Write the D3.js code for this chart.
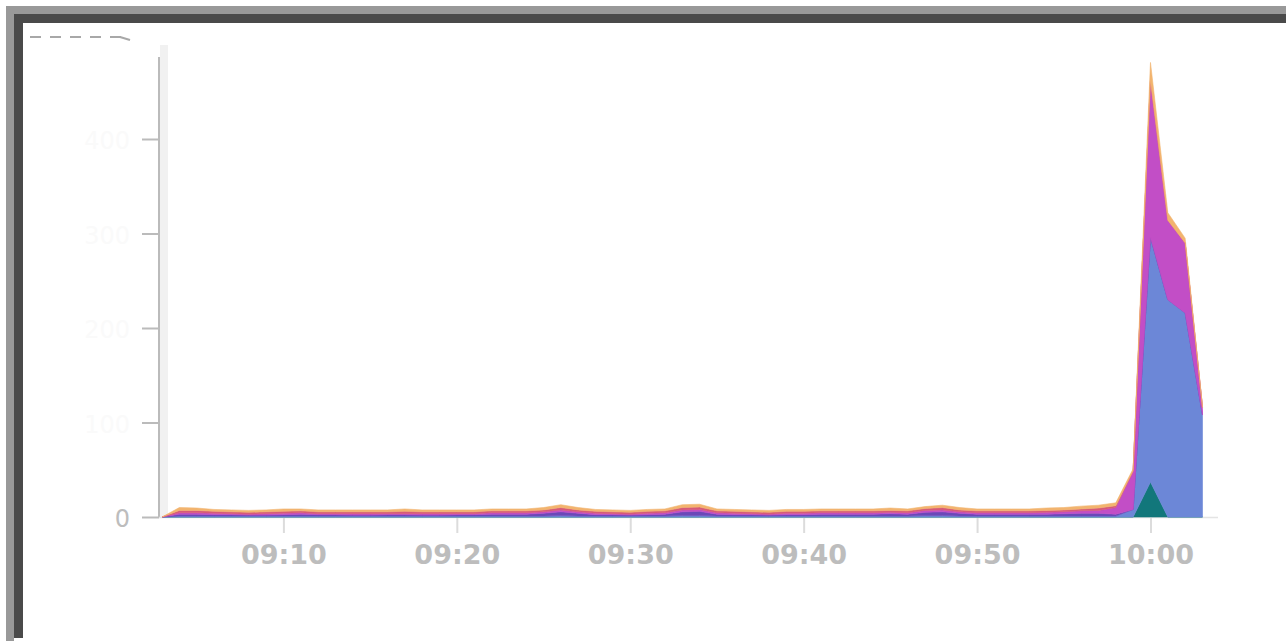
<!DOCTYPE html>
<html>
<head>
<meta charset="utf-8">
<script src="https://cdn.jsdelivr.net/npm/d3@7"></script>
<style>
  html, body { margin: 0; padding: 0; background: #fff; }
  svg { display: block; }
</style>
</head>
<body>
<svg id="chart" width="1286" height="641"></svg>
<script>
// one sample per minute, 09:03 .. 10:03
const startMinute = new Date(2020, 0, 1, 9, 3)
const minutes = d3.range(61).map(i => new Date(startMinute.getTime() + i * 60000))

const layerKeys = ['teal', 'blue', 'violet', 'magenta', 'red', 'orange']

const teal = [
  0, 0, 0, 0, 0, 0, 0, 0, 0, 0,
  0, 0, 0, 0, 0, 0, 0, 0, 0, 0,
  0, 0, 0, 0, 0, 0, 0, 0, 0, 0,
  0, 0, 0, 0, 0, 0, 0, 0, 0, 0,
  0, 0, 0, 0, 0, 0, 0, 0, 0, 0,
  0, 0, 0, 0, 0, 0, 0, 37, 0, 0,
  0
]
const blue = [
  0, 1, 1, 1, 1, 1, 1, 1, 1, 1,
  1, 1, 1, 1, 1, 1, 1, 1, 1, 1,
  1, 1, 1, 1.5, 1, 1, 1, 1, 1, 1,
  1.5, 1.5, 1, 1, 1, 1, 1, 1, 1, 1,
  1, 1, 1, 1, 1.5, 1.5, 1, 1, 1, 1,
  1, 1, 1, 1, 1, 1, 8, 259, 230, 216,
  108
]
const violet = [
  0, 2, 2, 1.5, 1.5, 1, 1, 1.5, 2, 1.5,
  1.5, 1, 1, 1.5, 1.5, 1, 1, 1.5, 1.5, 2,
  2, 2, 3, 4, 3, 1.5, 1.5, 1, 1.5, 2,
  4, 4.5, 2, 1.5, 1.5, 1, 1.5, 1.5, 2, 2,
  2, 2, 2.5, 2, 3.5, 4, 3, 2, 2, 2,
  2, 2, 2.5, 3, 3, 2, 0, 0, 0, 0,
  0
]
const magenta = [
  0, 1.5, 1.5, 1.5, 1, 1, 1.5, 1.5, 1.5, 1,
  1, 1.5, 1.5, 1, 1, 1.5, 1.5, 1, 1, 1.5,
  1.5, 1.5, 1.5, 2, 1.5, 1.5, 1, 1, 1.5, 1.5,
  2, 2, 1.5, 1.5, 1, 1, 1.5, 1.5, 1.5, 1.5,
  1.5, 1.5, 1.5, 1.5, 2, 2, 1.5, 1.5, 1.5, 1.5,
  1.5, 2, 2, 2.5, 3, 7, 40, 166, 84, 74,
  8
]
const red = [
  0, 2.5, 2.5, 2, 2, 2, 2, 2, 2, 2,
  2, 2, 2, 2, 2.5, 2, 2, 2, 2, 2,
  2, 2, 2, 2.5, 2, 2, 2, 2, 2, 2,
  2.5, 2.5, 2, 2, 2, 2, 2, 2, 2, 2,
  2, 2, 2, 2, 2, 2.5, 2, 2, 2, 2,
  2, 2, 2, 2, 2.5, 2, 1, 0, 0, 0,
  0
]
const orange = [
  0, 3, 2.5, 2, 2, 2, 2, 2.5, 2, 2,
  2, 2, 2, 2, 2.5, 2, 2, 2, 2, 2,
  2, 2, 2.5, 3, 2.5, 2, 2, 2, 2, 2,
  3, 3, 2, 2, 2, 2, 2, 2, 2, 2,
  2, 2, 2.5, 2, 2, 2.5, 2.5, 2, 2, 2,
  2, 2.5, 2.5, 3, 3, 3, 2, 19, 8, 5,
  1
]

const yTicks = [0, 100, 200, 300, 400]
const xTicks = [
  new Date(2020, 0, 1, 9, 10), new Date(2020, 0, 1, 9, 20), new Date(2020, 0, 1, 9, 30),
  new Date(2020, 0, 1, 9, 40), new Date(2020, 0, 1, 9, 50), new Date(2020, 0, 1, 10, 0)
]

const colors = {
  teal: '#12777b',
  blue: '#6c87d7',
  violet: '#6b48b8',
  magenta: '#c24ec6',
  red: '#d65a78',
  orange: '#f2b46e'
}

class StackedTraffic {
  constructor (element) {
    this.svg = d3.select(element)
    this.x = d3.scaleTime()
      .domain([minutes[0], minutes[minutes.length - 1]])
      .range([162, 1202.5])
    this.y = d3.scaleLinear()
      .domain([0, 500])
      .range([517, 44.5])
  }

  _rows () {
    const series = { teal, blue, violet, magenta, red, orange }
    return minutes.map((time, i) => {
      const row = { time }
      layerKeys.forEach(key => { row[key] = series[key][i] })
      return row
    })
  }

  _frame () {
    this.svg.append('rect').attr('x', 6).attr('y', 6).attr('width', 1280).attr('height', 8).attr('fill', '#999')
    this.svg.append('rect').attr('x', 6).attr('y', 6).attr('width', 8).attr('height', 635).attr('fill', '#999')
    this.svg.append('rect').attr('x', 14).attr('y', 14).attr('width', 1272).attr('height', 9).attr('fill', '#4a4a4a')
    this.svg.append('rect').attr('x', 14).attr('y', 14).attr('width', 9).attr('height', 624).attr('fill', '#4a4a4a')

    // faded header marks at top-left
    this.svg.append('line')
      .attr('x1', 30).attr('x2', 122).attr('y1', 37).attr('y2', 37)
      .attr('stroke', '#a8a8a8').attr('stroke-width', 2)
      .attr('stroke-dasharray', '11,9')
    this.svg.append('line')
      .attr('x1', 120).attr('x2', 130).attr('y1', 37).attr('y2', 40)
      .attr('stroke', '#a8a8a8').attr('stroke-width', 2)
  }

  _axes () {
    const { x, y, svg } = this

    svg.append('rect')
      .attr('x', 160).attr('y', 45).attr('width', 8).attr('height', 472)
      .attr('fill', '#f1f1f1')

    const yAxis = svg.append('g')
      .attr('transform', 'translate(159,0)')
      .call(d3.axisLeft(y).tickValues(yTicks).tickSize(17).tickPadding(12))
    yAxis.select('.domain').remove()
    yAxis.selectAll('.tick line').attr('stroke', '#bbb').attr('stroke-width', 2)
    yAxis.selectAll('.tick text')
      .attr('font-family', 'DejaVu Sans')
      .attr('font-size', 24)
      .attr('fill', d => d === 0 ? '#bdbdbd' : '#fafafa')
      .attr('dy', '0.4em')

    svg.append('line')
      .attr('x1', 159).attr('x2', 159).attr('y1', 57).attr('y2', 518)
      .attr('stroke', '#bbb').attr('stroke-width', 2)

    const xAxis = svg.append('g')
      .attr('transform', 'translate(0,517)')
      .call(d3.axisBottom(x).tickValues(xTicks).tickSize(16).tickFormat(d3.timeFormat('%H:%M')))
    xAxis.select('.domain').remove()
    xAxis.selectAll('.tick line').attr('stroke', '#dcdcdc').attr('stroke-width', 2)
    xAxis.selectAll('.tick text')
      .attr('font-family', 'DejaVu Sans')
      .attr('font-weight', 'bold')
      .attr('font-size', 27)
      .attr('fill', '#bdbdbd')
      .attr('dy', null)
      .attr('y', 47)

    svg.append('line')
      .attr('x1', 159).attr('x2', 1218).attr('y1', 517.5).attr('y2', 517.5)
      .attr('stroke', '#e4e4e4').attr('stroke-width', 1.5)
  }

  render () {
    const { x, y, svg } = this
    const stacked = d3.stack().keys(layerKeys)(this._rows())

    this._frame()
    this._axes()

    const area = d3.area()
      .x(d => x(d.data.time))
      .y0(d => y(d[0]))
      .y1(d => y(d[1]))

    svg.append('g')
      .selectAll('path')
      .data(stacked)
      .enter()
      .append('path')
      .attr('d', area)
      .attr('fill', d => colors[d.key])
      .attr('stroke', d => colors[d.key])
      .attr('stroke-width', 0.6)
      .attr('stroke-linejoin', 'round')
  }
}

new StackedTraffic('#chart').render()
</script>
</body>
</html>
